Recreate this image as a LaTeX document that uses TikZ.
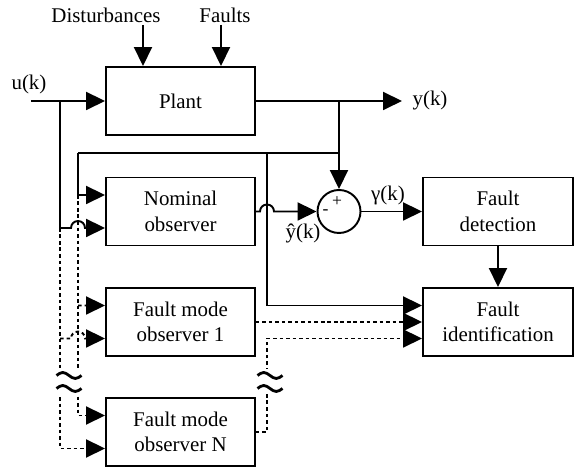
\documentclass[tikz,border=0pt]{standalone}
\usepackage{fontspec}
\setmainfont{Liberation Serif}
\usetikzlibrary{arrows.meta,positioning}

\begin{document}
\begin{tikzpicture}[
    font=\rmfamily\fontsize{11.9}{14.5}\selectfont,
    block/.style={rectangle, draw, line width=1.1pt, minimum width=2.98cm, minimum height=1.36cm, align=center},
    sumnode/.style={circle, draw, line width=1.1pt, minimum size=0.86cm, inner sep=0pt},
    line/.style={line width=1.1pt},
    arrow/.style={-{Triangle[length=0.38cm, width=0.36cm]}, line width=1.1pt},
    dotarrow/.style={arrow, dash pattern=on 2pt off 1.7pt},
    gapbox/.style={fill=white, inner sep=0pt, minimum width=0.6cm, minimum height=0.5cm},
    tilde/.style={line width=1.6pt}
]
\useasboundingbox (0,0) rectangle (11.6,9.36);

% Blocks
\node[block] (plant) at (3.61,7.34) {Plant};
\node[block] (nominal) at (3.61,5.13) {Nominal\\observer};
\node[block] (fmone) at (3.61,2.92) {Fault mode\\observer 1};
\node[block] (fmn) at (3.61,0.72) {Fault mode\\observer N};
\node[block, minimum width=3cm] (detect) at (9.96,5.13) {Fault\\detection};
\node[block, minimum width=3cm] (ident) at (9.96,2.92) {Fault\\identification};

% Summing junction
\node[sumnode] (sum) at (6.78,5.13) {};
\node[font=\fontsize{10}{10}\selectfont] (plus) at (6.74,5.33) {+};
\node[font=\fontsize{10}{10}\selectfont] (minus) at (6.51,5.11) {-};

% Labels
\node (dist) at (2.12,9.06) {Disturbances};
\node (faults) at (4.5,9.06) {Faults};
\node (ulabel) at (0.58,7.68) {u(k)};
\node (ylabel) at (8.6,7.34) {y(k)};
\node (gamma) at (7.76,5.46) {γ(k)};
\node (yhat) at (6.06,4.7) {ŷ(k)};

% Free ends and junctions
\coordinate (distin) at (2.86,8.86);
\coordinate (faultin) at (4.42,8.86);
\coordinate (uin) at (0.62,7.34);
\coordinate (ujoin) at (1.2,7.34);
\coordinate (yout) at (8.04,7.34);
\coordinate (yjoin) at (6.78,7.34);
\coordinate (fbright) at (6.78,6.3);
\coordinate (fbmid) at (5.34,6.3);
\coordinate (fbleft) at (1.56,6.3);

% Plant inputs and output
\draw[arrow] (distin) -- (distin |- plant.north);
\draw[arrow] (faultin) -- (faultin |- plant.north);
\draw[arrow] (uin) -- (plant.west);
\draw[arrow] (plant.east) -- (yout);
\draw[arrow] (yjoin) -- (sum.north);

% Feedback of y(k)
\draw[line] (fbright) -- (fbleft);
\draw[arrow] (fbleft) |- ([yshift=3.3mm]nominal.west);
\draw[arrow] (fbmid) |- ([yshift=3.3mm]ident.west);

% u(k) to nominal observer
\draw[arrow] (ujoin) -- (1.2,4.8) -- (1.42,4.8) arc[start angle=180, end angle=0, radius=0.14] -- ([yshift=-3.3mm]nominal.west);

% Dotted inputs of the fault mode observers
\draw[dotarrow] (1.56,5.46) |- ([yshift=3.3mm]fmn.west);
\draw[dotarrow] (1.56,3.25) -- ([yshift=3.3mm]fmone.west);
\draw[dotarrow] (1.2,4.8) |- ([yshift=-3.3mm]fmn.west);
\draw[dotarrow] (1.2,2.59) -- (1.42,2.59) arc[start angle=180, end angle=0, radius=0.14] -- ([yshift=-3.3mm]fmone.west);

% Residual
\draw[arrow] (nominal.east) -- (5.2,5.13) arc[start angle=180, end angle=0, radius=0.14] -- (sum.west);
\draw[arrow] (sum.east) -- (detect.west);
\draw[arrow] (detect.south) -- (ident.north);

% Fault mode outputs
\draw[dotarrow] (fmone.east) -- (ident.west);
\draw[dotarrow] (fmn.east) -- (5.34,0.72) |- ([yshift=-3.3mm]ident.west);

% Breaks
\foreach \gap/\x in {gapleft/1.38, gapright/5.4} {
  \node[gapbox] (\gap) at (\x,1.72) {};
  \draw[tilde] ([xshift=-2.5mm, yshift=1.3mm]\gap.center) sin ++(0.125,0.06) cos ++(0.125,-0.06) sin ++(0.125,-0.06) cos ++(0.125,0.06);
  \draw[tilde] ([xshift=-2.5mm, yshift=-1.3mm]\gap.center) sin ++(0.125,0.06) cos ++(0.125,-0.06) sin ++(0.125,-0.06) cos ++(0.125,0.06);
}

\end{tikzpicture}
\end{document}
